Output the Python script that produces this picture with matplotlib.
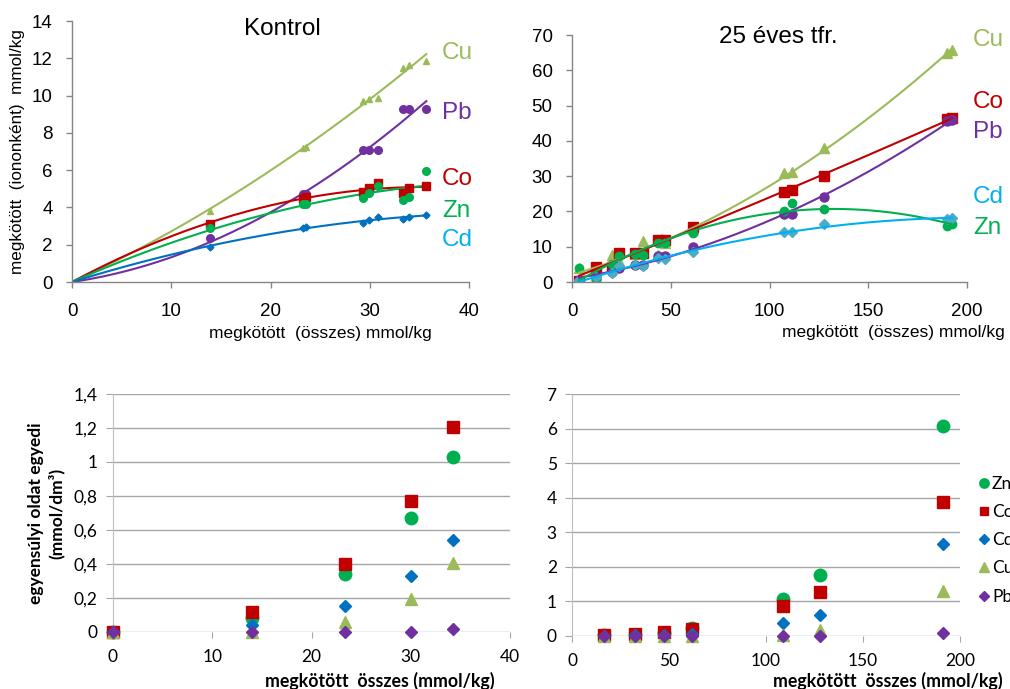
import numpy as np
import matplotlib
matplotlib.use('Agg')
import matplotlib.pyplot as plt
from matplotlib.ticker import FuncFormatter

# colours
c_cu = '#9BBB59'
c_pb = '#7030A0'
c_co = '#C00000'
c_zn = '#00B050'
c_cd = '#0070C0'
c_cd2 = '#00B0F0'

# Kontrol (top left)
k_x = [13.9, 23.3, 23.6, 29.3, 29.9, 30.8, 33.3, 34.0, 35.7]
k_cu = [3.83, 7.17, 7.25, 9.72, 9.80, 9.88, 11.50, 11.66, 11.84]
k_pb = [2.35, 4.70, 4.73, 7.06, 7.06, 7.06, 9.27, 9.27, 9.27]
k_co = [3.12, 4.44, 4.55, 4.85, 5.03, 5.33, 4.80, 5.06, 5.14]
k_zn = [2.89, 4.17, 4.20, 4.53, 4.76, 5.17, 4.42, 4.58, 5.97]
k_cd = [1.87, 2.89, 2.94, 3.19, 3.33, 3.46, 3.39, 3.51, 3.58]

# 25 eves tfr. (top right)
t_x = [3.5, 12, 20, 24, 32, 36, 43.5, 47, 61.5, 107.5, 111.5, 127.5, 190, 192.5]
t_cu = [4.0, 2.0, 7.7, 6.0, 8.0, 11.7, 7.7, 11.0, 15.0, 30.8, 31.1, 38.0, 64.8, 65.8]
t_co = [0.4, 4.2, 4.2, 8.3, 8.3, 8.3, 11.9, 11.9, 15.6, 25.5, 26.0, 30.0, 46.2, 46.4]
t_pb = [0.5, 1.5, 2.8, 4.0, 4.8, 4.8, 7.4, 7.4, 9.8, 19.2, 19.2, 24.0, 45.5, 46.0]
t_zn = [4.0, 0.4, 5.0, 7.5, 8.0, 7.7, 11.0, 11.0, 13.8, 20.2, 22.4, 20.8, 15.9, 16.4]
t_cd = [0.5, 1.5, 2.5, 4.6, 4.7, 4.6, 6.7, 6.4, 8.5, 14.2, 14.2, 16.5, 17.9, 18.1]

# equilibrium solution, Kontrol (bottom left)
b1_x = [0, 14, 23.4, 30, 34.3]
b1_zn = [0, 0.083, 0.344, 0.67, 1.032]
b1_co = [0, 0.118, 0.40, 0.77, 1.203]
b1_cd = [0, 0.04, 0.155, 0.332, 0.54]
b1_cu = [0, 0.0, 0.06, 0.195, 0.405]
b1_pb = [0, 0.0, 0.0, 0.0, 0.02]

# equilibrium solution, 25 eves (bottom right)
b2_x = [16.3, 32.3, 47.2, 61.8, 109, 127.9, 191.4]
b2_zn = [0.02, 0.03, 0.08, 0.22, 1.06, 1.77, 6.08]
b2_co = [0.02, 0.07, 0.12, 0.19, 0.87, 1.28, 3.89]
b2_cd = [0.01, 0.03, 0.04, 0.05, 0.37, 0.60, 2.65]
b2_cu = [0, 0, 0, 0, 0.03, 0.17, 1.31]
b2_pb = [0, 0, 0, 0, 0, 0, 0.08]

W, H = 1010, 689


def px_axes(fig, l, r, b, t):
    return fig.add_axes([l / W, 1 - b / H, (r - l) / W, (b - t) / H])


def trend0(x, y):
    # 2nd order trendline forced through the origin
    x = np.asarray(x, float)
    y = np.asarray(y, float)
    A = np.column_stack([x, x ** 2])
    a, b = np.linalg.lstsq(A, y, rcond=None)[0]
    xx = np.linspace(0, x.max(), 200)
    return xx, a * xx + b * xx ** 2


def trend(x, y):
    c = np.polyfit(x, y, 2)
    xx = np.linspace(min(x), max(x), 200)
    return xx, np.polyval(c, xx)


def style_top(ax):
    for s in ('top', 'right'):
        ax.spines[s].set_visible(False)
    for s in ('left', 'bottom'):
        ax.spines[s].set_color('#868686')
        ax.spines[s].set_linewidth(1.0)
    ax.tick_params(direction='out', length=4, width=1, color='#868686', labelsize=13.5)
    ax.tick_params(axis='y', pad=10)
    ax.tick_params(axis='x', pad=11)
    for lab in ax.get_xticklabels() + ax.get_yticklabels():
        lab.set_family('Liberation Sans')


def style_bottom(ax):
    for s in ('top', 'right', 'bottom'):
        ax.spines[s].set_visible(False)
    ax.spines['left'].set_color('#BFBFBF')
    ax.grid(axis='y', color='#A6A6A6', linewidth=1.0)
    ax.set_axisbelow(True)
    ax.tick_params(axis='y', direction='out', length=5, color='#A6A6A6', labelsize=12.5, pad=6)
    ax.tick_params(axis='x', direction='out', length=4, color='#A6A6A6', labelsize=12.5, pad=8)
    for lab in ax.get_xticklabels() + ax.get_yticklabels():
        lab.set_family('Lato')
    ax.yaxis.set_major_formatter(FuncFormatter(lambda v, p: ('%g' % round(v, 2)).replace('.', ',')))


fig = plt.figure(figsize=(W / 100, H / 100), dpi=100)

# ---- top left: Kontrol
ax1 = px_axes(fig, 72, 469, 282, 21)
series = [(k_cu, c_cu, '^', 5), (k_pb, c_pb, 'o', 5.5), (k_co, c_co, 's', 5.5),
          (k_zn, c_zn, 'o', 5.5), (k_cd, c_cd, 'D', 3.5)]
for ys, col, m, ms in series:
    xx, yy = trend0(k_x, ys)
    ax1.plot(xx, yy, color=col, lw=1.5, zorder=2)
for ys, col, m, ms in series:
    ax1.plot(k_x, ys, ls='none', marker=m, ms=ms, color=col, zorder=3)
ax1.set_xlim(0, 40)
ax1.set_ylim(0, 14)
ax1.set_xticks(range(0, 41, 10))
ax1.set_yticks(range(0, 15, 2))
style_top(ax1)

# ---- top right: 25 eves tfr.
ax2 = px_axes(fig, 572, 967, 282, 35)
series = [(t_cu, c_cu, '^', 7), (t_co, c_co, 's', 7), (t_pb, c_pb, 'o', 6.5),
          (t_zn, c_zn, 'o', 6), (t_cd, '#4BACC6', 'D', 5)]
lines_col = [c_cu, c_co, c_pb, c_zn, c_cd2]
for (ys, col, m, ms), lc in zip(series, lines_col):
    ax2.plot(t_x, ys, ls='none', marker=m, ms=ms, color=col, zorder=2)
for (ys, col, m, ms), lc in zip(series, lines_col):
    xx, yy = trend(t_x, ys)
    ax2.plot(xx, yy, color=lc, lw=1.5, zorder=3)
ax2.set_xlim(0, 200)
ax2.set_ylim(0, 70)
ax2.set_xticks(range(0, 201, 50))
ax2.set_yticks(range(0, 71, 10))
style_top(ax2)

# titles / ion labels / axis labels (top)
fig.text(282 / W, 1 - 29 / H, 'Kontrol', ha='center', va='center', fontsize=17.5,
         family='Liberation Sans')
fig.text(778 / W, 1 - 37 / H, '25 éves tfr.', ha='center', va='center', fontsize=17.5,
         family='Liberation Sans')
for name, col, y in [('Cu', c_cu, 53), ('Pb', c_pb, 113), ('Co', c_co, 179),
                     ('Zn', c_zn, 211), ('Cd', c_cd2, 240)]:
    fig.text(442 / W, 1 - y / H, name, color=col, fontsize=17.5, va='center',
             family='Liberation Sans')
for name, col, y in [('Cu', c_cu, 40), ('Co', c_co, 102), ('Pb', c_pb, 132),
                     ('Cd', c_cd2, 197), ('Zn', c_zn, 228)]:
    fig.text(973 / W, 1 - y / H, name, color=col, fontsize=17.5, va='center',
             family='Liberation Sans')
fig.text(18 / W, 1 - 152 / H, 'megkötött  (iononként)  mmol/kg', rotation=90,
         ha='center', va='center', fontsize=12.3, family='Liberation Sans')
fig.text(320 / W, 1 - 333 / H, 'megkötött  (összes) mmol/kg', ha='center', va='center',
         fontsize=12.5, family='Liberation Sans')
fig.text(893 / W, 1 - 332 / H, 'megkötött  (összes) mmol/kg', ha='center', va='center',
         fontsize=12.5, family='Liberation Sans')

# ---- bottom left
ax3 = px_axes(fig, 113, 510, 632, 394)
ax3.plot(b1_x, b1_zn, ls='none', marker='o', ms=9, color=c_zn, zorder=3, clip_on=False)
ax3.plot(b1_x, b1_co, ls='none', marker='s', ms=8, color=c_co, zorder=3, clip_on=False)
ax3.plot(b1_x, b1_cd, ls='none', marker='D', ms=6.5, color=c_cd, zorder=3, clip_on=False)
ax3.plot(b1_x, b1_cu, ls='none', marker='^', ms=9, color=c_cu, zorder=3, clip_on=False)
ax3.plot(b1_x, b1_pb, ls='none', marker='D', ms=6.5, color=c_pb, zorder=3, clip_on=False)
ax3.set_xlim(0, 40)
ax3.set_ylim(0, 1.4)
ax3.set_xticks(range(0, 41, 10))
ax3.set_yticks(np.arange(0, 1.41, 0.2))
style_bottom(ax3)

# ---- bottom right
ax4 = px_axes(fig, 572, 960, 636, 394)
h1, = ax4.plot(b2_x, b2_zn, ls='none', marker='o', ms=9, color=c_zn, zorder=3, clip_on=False)
h2, = ax4.plot(b2_x, b2_co, ls='none', marker='s', ms=8, color=c_co, zorder=3, clip_on=False)
h3, = ax4.plot(b2_x, b2_cd, ls='none', marker='D', ms=6.5, color=c_cd, zorder=3, clip_on=False)
h4, = ax4.plot(b2_x, b2_cu, ls='none', marker='^', ms=9, color=c_cu, zorder=3, clip_on=False)
h5, = ax4.plot(b2_x, b2_pb, ls='none', marker='D', ms=6.5, color=c_pb, zorder=3, clip_on=False)
ax4.set_xlim(0, 200)
ax4.set_ylim(0, 7)
ax4.set_xticks(range(0, 201, 50))
ax4.set_yticks(range(0, 8))
style_bottom(ax4)

leg = fig.legend([h1, h2, h3, h4, h5], ['Zn', 'Co', 'Cd', 'Cu', 'Pb'],
                 loc='upper left', bbox_to_anchor=(979 / W, 1 - 476 / H),
                 frameon=False, handlelength=0.6, handletextpad=0.15,
                 labelspacing=0.7, borderpad=0, borderaxespad=0,
                 prop={'family': 'Lato', 'size': 12.5}, markerscale=0.75)

fig.text(46 / W, 1 - 513 / H, 'egyensúlyi oldat egyedi\n(mmol/dm³)', rotation=90,
         ha='center', va='center', multialignment='center', fontsize=12.5,
         fontweight='bold', family='Lato', linespacing=1.3)
fig.text(380 / W, 1 - 681 / H, 'megkötött  összes (mmol/kg)', ha='center', va='center',
         fontsize=12.8, fontweight='bold', family='Lato')
fig.text(888 / W, 1 - 681 / H, 'megkötött  összes (mmol/kg)', ha='center', va='center',
         fontsize=12.8, fontweight='bold', family='Lato')

fig.savefig('out.png', dpi=100)
